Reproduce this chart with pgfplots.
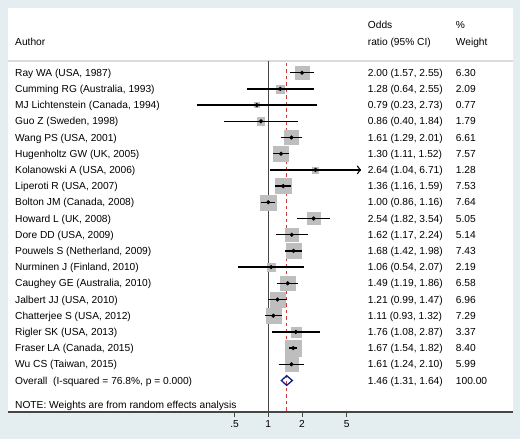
\documentclass[border=0pt]{standalone}
\usepackage{fontspec}
\setmainfont{Liberation Sans}
\usepackage{pgfplots}
\pgfplotsset{compat=1.18}
\usepackage{pgfplotstable}
\usetikzlibrary{arrows.meta}
\definecolor{bgc}{RGB}{228,237,240}
\definecolor{boxg}{RGB}{190,190,190}
\definecolor{refred}{RGB}{205,60,60}
\definecolor{navyd}{RGB}{25,25,140}
\definecolor{sepg}{RGB}{218,218,218}
\definecolor{axg}{RGB}{70,70,70}

\pgfplotstableread{
row or lo hi w
1 2.00 1.57 2.55 6.30
2 1.28 0.64 2.55 2.09
3 0.79 0.23 2.73 0.77
4 0.86 0.40 1.84 1.79
5 1.61 1.29 2.01 6.61
6 1.30 1.11 1.52 7.57
7 2.64 1.04 6.71 1.28
8 1.36 1.16 1.59 7.53
9 1.00 0.86 1.16 7.64
10 2.54 1.82 3.54 5.05
11 1.62 1.17 2.24 5.14
12 1.68 1.42 1.98 7.43
13 1.06 0.54 2.07 2.19
14 1.49 1.19 1.86 6.58
15 1.21 0.99 1.47 6.96
16 1.11 0.93 1.32 7.29
17 1.76 1.08 2.87 3.37
18 1.67 1.54 1.82 8.40
19 1.61 1.24 2.10 5.99
}\studies

\begin{document}
\begin{tikzpicture}[x=1bp,y=1bp,
  lab/.style={anchor=west,inner sep=0pt,text height=7.3bp,text depth=0pt,font=\fontsize{10.2bp}{12bp}\selectfont}]
\fill[bgc] (0,0) rectangle (520,-439);
\begin{axis}[
  clip mode=individual,
  at={(8bp,-412bp)}, anchor=south west,
  width=504.5bp, height=404bp, scale only axis,
  xmode=log, xmin=0.004771, xmax=150.9,
  ymin=-2.994, ymax=21.944, y dir=reverse,
  axis x line*=bottom, hide y axis,
  axis background/.style={fill=white},
  x axis line style={draw=axg, line width=1.1bp},
  xtick={0.5,1,2,5}, xticklabels={.5,1,2,5},
  minor xtick={}, xminorticks=false,
  tick align=outside, major tick length=4.5bp,
  x tick style={draw=axg, line width=0.8bp},
  xticklabel style={font=\fontsize{10.2bp}{12bp}\selectfont, inner sep=0pt, yshift=-3.5bp},
  clip=false,
]
% separator line
\addplot[sepg, line width=1.3bp] coordinates {(0.004771,0.278) (150.9,0.278)};
% null line
\addplot[axg, line width=0.9bp] coordinates {(1,0.278) (1,21.944)};
% overall dashed line
\addplot[refred, dash pattern=on 3.5bp off 3bp, line width=0.9bp] coordinates {(1.46,0.4) (1.46,21.944)};
% boxes
\addplot[only marks, scatter, mark=square*,
  point meta=\thisrow{w},
  mark options={draw=boxg, fill=boxg},
  scatter/use mapped color={draw=boxg, fill=boxg},
  visualization depends on={2.76*sqrt(\thisrow{w}) \as \ms},
  scatter/@pre marker code/.append style={/tikz/mark size=\ms}]
  table[x=or, y=row] {\studies};
% confidence intervals
\pgfplotsinvokeforeach{0,...,18}{
  \pgfplotstablegetelem{#1}{lo}\of\studies \let\cilo\pgfplotsretval
  \pgfplotstablegetelem{#1}{hi}\of\studies \let\cihi\pgfplotsretval
  \pgfplotstablegetelem{#1}{row}\of\studies \let\cirow\pgfplotsretval
  \edef\cmd{\noexpand\addplot[black, line width=1.5bp] coordinates {(\cilo,\cirow) (\cihi,\cirow)};}
  \cmd
}
% arrow for truncated CI
\addplot[black, line width=1.5bp, -{Straight Barb[length=3bp,width=8bp,line width=1.1bp]}] coordinates {(1.04,7) (6.71,7)};
% point estimates
\addplot[only marks, mark=*, mark size=1.9bp, black] table[x=or, y=row] {\studies};
% overall diamond
\addplot[navyd, line width=1.3bp] coordinates {(1.31,20) (1.46,19.7) (1.64,20) (1.46,20.3) (1.31,20)} -- cycle;
\end{axis}
% header
\node[lab] at (15,-42) {Author};
\node[lab] at (367.7,-25) {Odds};
\node[lab] at (367.7,-42) {ratio (95\% CI)};
\node[lab] at (455.7,-25) {\%};
\node[lab] at (455.7,-42) {Weight};
\foreach \i/\a/\o/\w in {
1/{Ray WA (USA, 1987)}/{2.00 (1.57, 2.55)}/6.30,
2/{Cumming RG (Australia, 1993)}/{1.28 (0.64, 2.55)}/2.09,
3/{MJ Lichtenstein (Canada, 1994)}/{0.79 (0.23, 2.73)}/0.77,
4/{Guo Z (Sweden, 1998)}/{0.86 (0.40, 1.84)}/1.79,
5/{Wang PS (USA, 2001)}/{1.61 (1.29, 2.01)}/6.61,
6/{Hugenholtz GW (UK, 2005)}/{1.30 (1.11, 1.52)}/7.57,
7/{Kolanowski A (USA, 2006)}/{2.64 (1.04, 6.71)}/1.28,
8/{Liperoti R (USA, 2007)}/{1.36 (1.16, 1.59)}/7.53,
9/{Bolton JM (Canada, 2008)}/{1.00 (0.86, 1.16)}/7.64,
10/{Howard L (UK, 2008)}/{2.54 (1.82, 3.54)}/5.05,
11/{Dore DD (USA, 2009)}/{1.62 (1.17, 2.24)}/5.14,
12/{Pouwels S (Netherland, 2009)}/{1.68 (1.42, 1.98)}/7.43,
13/{Nurminen J (Finland, 2010)}/{1.06 (0.54, 2.07)}/2.19,
14/{Caughey GE (Australia, 2010)}/{1.49 (1.19, 1.86)}/6.58,
15/{Jalbert JJ (USA, 2010)}/{1.21 (0.99, 1.47)}/6.96,
16/{Chatterjee S (USA, 2012)}/{1.11 (0.93, 1.32)}/7.29,
17/{Rigler SK (USA, 2013)}/{1.76 (1.08, 2.87)}/3.37,
18/{Fraser LA (Canada, 2015)}/{1.67 (1.54, 1.82)}/8.40,
19/{Wu CS (Taiwan, 2015)}/{1.61 (1.24, 2.10)}/5.99,
20/{Overall\ \ (I-squared = 76.8\%, p = 0.000)}/{1.46 (1.31, 1.64)}/100.00}{
  \pgfmathsetmacro{\yy}{-(72.7+16.2*(\i-1))}
  \node[lab] at (15,\yy) {\a};
  \node[lab] at (367.7,\yy) {\o};
  \node[lab] at (455.7,\yy) {\w};
}
\node[lab] at (15,-405) {NOTE: Weights are from random effects analysis};
\pgfresetboundingbox
\useasboundingbox (0,0) rectangle (520,-439);
\end{tikzpicture}
\end{document}
